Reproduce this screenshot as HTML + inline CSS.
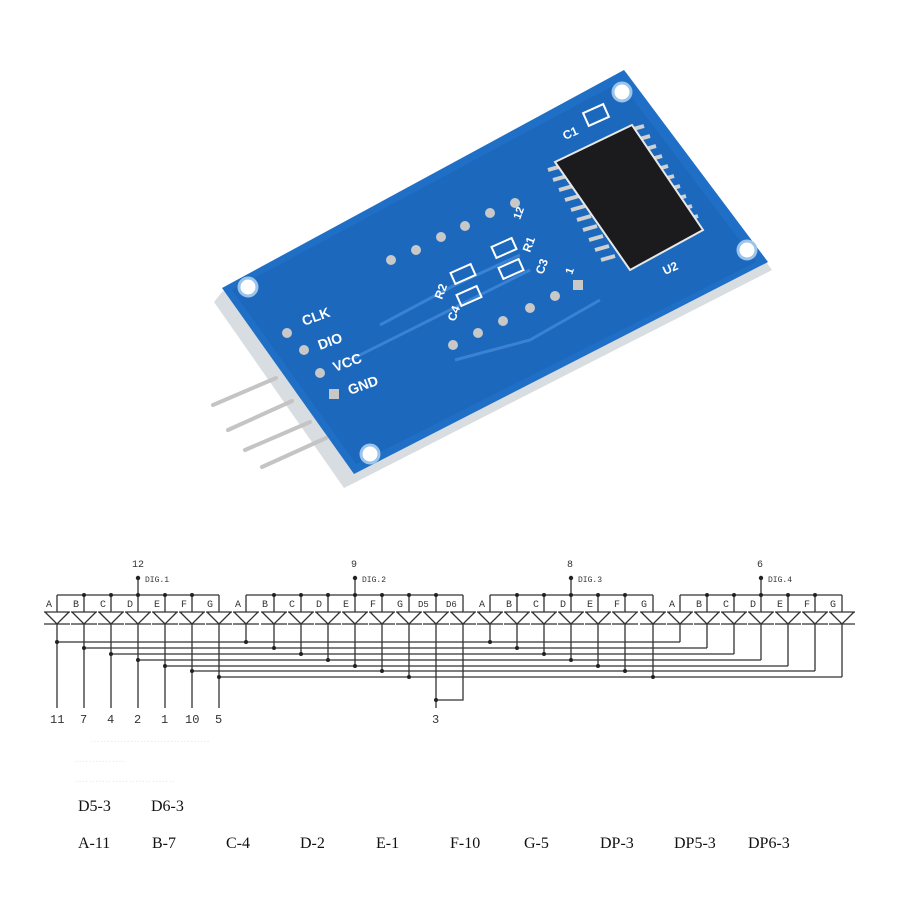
<!DOCTYPE html>
<html><head><meta charset="utf-8"><style>
html,body{margin:0;padding:0;background:#fff;}
svg{display:block;}
</style></head><body>
<svg width="900" height="900" viewBox="0 0 900 900" xmlns="http://www.w3.org/2000/svg">
<defs>
  <path id="d" d="M-13,612H13 M-12,612 L0,624 L12,612 M-13,624H13"/>
</defs>
<rect width="900" height="900" fill="#fff"/>
<!-- PCB -->
<g>
  <polygon points="222,292 626,72 772,270 356,482 344,488 214,302" fill="#d8dde2"/>
  <polygon points="222,288 624,70 768,262 354,474" fill="#1f6fc6"/>
  <polygon points="232,290 620,82 756,262 356,464" fill="#1c68bd"/>
  <circle cx="248" cy="287" r="9" fill="#fff" stroke="#9cc3ea" stroke-width="3"/>
  <circle cx="622" cy="92" r="9" fill="#fff" stroke="#9cc3ea" stroke-width="3"/>
  <circle cx="747" cy="250" r="9" fill="#fff" stroke="#9cc3ea" stroke-width="3"/>
  <circle cx="370" cy="454" r="9" fill="#fff" stroke="#9cc3ea" stroke-width="3"/>
  <!-- traces -->
  <path d="M380,325 L455,285 L520,255 M350,360 L470,300 L530,270 M455,360 L530,340 L600,300" stroke="#3a82d3" stroke-width="3" fill="none"/>
  <!-- chip pins -->
  <g stroke="#d0d0d0" stroke-width="4">
    <line x1="548" y1="170" x2="562" y2="166"/><line x1="553" y1="180" x2="567" y2="176"/><line x1="559" y1="190" x2="573" y2="186"/><line x1="565" y1="200" x2="579" y2="196"/><line x1="571" y1="210" x2="585" y2="206"/><line x1="577" y1="220" x2="591" y2="216"/><line x1="583" y1="230" x2="597" y2="226"/><line x1="589" y1="240" x2="603" y2="236"/><line x1="595" y1="250" x2="609" y2="246"/><line x1="601" y1="260" x2="615" y2="256"/>
    <line x1="630" y1="130" x2="644" y2="126"/><line x1="636" y1="140" x2="650" y2="136"/><line x1="642" y1="150" x2="656" y2="146"/><line x1="648" y1="160" x2="662" y2="156"/><line x1="654" y1="170" x2="668" y2="166"/><line x1="660" y1="180" x2="674" y2="176"/><line x1="666" y1="190" x2="680" y2="186"/><line x1="672" y1="200" x2="686" y2="196"/><line x1="678" y1="210" x2="692" y2="206"/><line x1="684" y1="220" x2="698" y2="216"/>
  </g>
  <polygon points="555,162 632,125 703,230 630,270" fill="#1b1b1e" stroke="#e8e8e8" stroke-width="2"/>
  <rect x="585" y="108" width="22" height="14" fill="none" stroke="#fff" stroke-width="2" transform="rotate(-24 596 115)"/>
  <text x="565" y="140" fill="#fff" font-family="Liberation Sans,sans-serif" font-size="12" font-weight="bold" transform="rotate(-24 565 140)">C1</text>
  <text x="665" y="275" fill="#fff" font-family="Liberation Sans,sans-serif" font-size="12" font-weight="bold" transform="rotate(-24 665 275)">U2</text>
  <!-- header pads -->
  <g fill="#c8c8c8">
    <circle cx="391" cy="260" r="5"/><circle cx="416" cy="250" r="5"/><circle cx="441" cy="237" r="5"/><circle cx="465" cy="226" r="5"/><circle cx="490" cy="213" r="5"/><circle cx="515" cy="203" r="5"/>
    <circle cx="453" cy="345" r="5"/><circle cx="478" cy="333" r="5"/><circle cx="503" cy="321" r="5"/><circle cx="530" cy="308" r="5"/><circle cx="555" cy="296" r="5"/><rect x="573" y="280" width="10" height="10"/>
    <circle cx="287" cy="333" r="5"/><circle cx="304" cy="350" r="5"/><circle cx="320" cy="373" r="5"/><rect x="329" y="389" width="10" height="10"/>
  </g>
  <g fill="#fff" font-family="Liberation Sans,sans-serif" font-size="14" font-weight="bold">
    <text x="304" y="326" transform="rotate(-20 304 326)">CLK</text>
    <text x="320" y="350" transform="rotate(-20 320 350)">DIO</text>
    <text x="335" y="372" transform="rotate(-20 335 372)">VCC</text>
    <text x="350" y="395" transform="rotate(-20 350 395)">GND</text>
    <text x="520" y="220" font-size="11" transform="rotate(-70 520 220)">12</text>
    <text x="572" y="275" font-size="11" transform="rotate(-70 572 275)">1</text>
    <text x="442" y="300" font-size="12" transform="rotate(-70 442 300)">R2</text>
    <text x="455" y="322" font-size="12" transform="rotate(-70 455 322)">C4</text>
    <text x="530" y="253" font-size="12" transform="rotate(-70 530 253)">R1</text>
    <text x="543" y="275" font-size="12" transform="rotate(-70 543 275)">C3</text>
  </g>
  <g fill="none" stroke="#fff" stroke-width="2">
    <rect x="452" y="268" width="22" height="12" transform="rotate(-24 463 274)"/>
    <rect x="458" y="290" width="22" height="12" transform="rotate(-24 469 296)"/>
    <rect x="493" y="242" width="22" height="12" transform="rotate(-24 504 248)"/>
    <rect x="500" y="263" width="22" height="12" transform="rotate(-24 511 269)"/>
  </g>
  <!-- pins -->
  <g stroke="#c4c4c4" stroke-width="4" stroke-linecap="round">
    <line x1="213" y1="405" x2="276" y2="378"/>
    <line x1="228" y1="430" x2="292" y2="401"/>
    <line x1="245" y1="450" x2="310" y2="422"/>
    <line x1="262" y1="467" x2="326" y2="438"/>
  </g>
</g>

<!-- Schematic -->
<g stroke="#333" stroke-width="1.3" fill="none">
  <line x1="57" y1="595" x2="219" y2="595"/>
  <line x1="246" y1="595" x2="463" y2="595"/>
  <line x1="490" y1="595" x2="653" y2="595"/>
  <line x1="680" y1="595" x2="842" y2="595"/>
  <line x1="138" y1="578" x2="138" y2="595"/>
  <line x1="355" y1="578" x2="355" y2="595"/>
  <line x1="571" y1="578" x2="571" y2="595"/>
  <line x1="761" y1="578" x2="761" y2="595"/>
  <path d="M57,595V612 M84,595V612 M111,595V612 M138,595V612 M165,595V612 M192,595V612 M219,595V612 M246,595V612 M274,595V612 M301,595V612 M328,595V612 M355,595V612 M382,595V612 M409,595V612 M436,595V612 M463,595V612 M490,595V612 M517,595V612 M544,595V612 M571,595V612 M598,595V612 M625,595V612 M653,595V612 M680,595V612 M707,595V612 M734,595V612 M761,595V612 M788,595V612 M815,595V612 M842,595V612"/>
  <line x1="57" y1="642" x2="680" y2="642"/>
  <line x1="84" y1="648" x2="707" y2="648"/>
  <line x1="111" y1="654" x2="734" y2="654"/>
  <line x1="138" y1="660" x2="761" y2="660"/>
  <line x1="165" y1="666" x2="788" y2="666"/>
  <line x1="192" y1="671" x2="815" y2="671"/>
  <line x1="219" y1="677" x2="842" y2="677"/>
  <path d="M57,624V708 M84,624V708 M111,624V708 M138,624V708 M165,624V708 M192,624V708 M219,624V708"/>
  <path d="M246,624V642 M274,624V648 M301,624V654 M328,624V660 M355,624V666 M382,624V671 M409,624V677"/>
  <path d="M436,624V708 M463,624V700 H436"/>
  <path d="M490,624V642 M517,624V648 M544,624V654 M571,624V660 M598,624V666 M625,624V671 M653,624V677"/>
  <path d="M680,624V642 M707,624V648 M734,624V654 M761,624V660 M788,624V666 M815,624V671 M842,624V677"/>
</g>
<g stroke="#333" stroke-width="1.3" fill="none">
  <use href="#d" x="57"/><use href="#d" x="84"/><use href="#d" x="111"/><use href="#d" x="138"/><use href="#d" x="165"/><use href="#d" x="192"/><use href="#d" x="219"/>
  <use href="#d" x="246"/><use href="#d" x="274"/><use href="#d" x="301"/><use href="#d" x="328"/><use href="#d" x="355"/><use href="#d" x="382"/><use href="#d" x="409"/><use href="#d" x="436"/><use href="#d" x="463"/>
  <use href="#d" x="490"/><use href="#d" x="517"/><use href="#d" x="544"/><use href="#d" x="571"/><use href="#d" x="598"/><use href="#d" x="625"/><use href="#d" x="653"/>
  <use href="#d" x="680"/><use href="#d" x="707"/><use href="#d" x="734"/><use href="#d" x="761"/><use href="#d" x="788"/><use href="#d" x="815"/><use href="#d" x="842"/>
</g>
<g fill="#222">
  <circle cx="138" cy="578" r="2.2"/><circle cx="355" cy="578" r="2.2"/><circle cx="571" cy="578" r="2.2"/><circle cx="761" cy="578" r="2.2"/>
  <circle cx="84" cy="595" r="2"/><circle cx="111" cy="595" r="2"/><circle cx="138" cy="595" r="2"/><circle cx="165" cy="595" r="2"/><circle cx="192" cy="595" r="2"/>
  <circle cx="274" cy="595" r="2"/><circle cx="301" cy="595" r="2"/><circle cx="328" cy="595" r="2"/><circle cx="355" cy="595" r="2"/><circle cx="382" cy="595" r="2"/><circle cx="409" cy="595" r="2"/><circle cx="436" cy="595" r="2"/>
  <circle cx="517" cy="595" r="2"/><circle cx="544" cy="595" r="2"/><circle cx="571" cy="595" r="2"/><circle cx="598" cy="595" r="2"/><circle cx="625" cy="595" r="2"/>
  <circle cx="707" cy="595" r="2"/><circle cx="734" cy="595" r="2"/><circle cx="761" cy="595" r="2"/><circle cx="788" cy="595" r="2"/><circle cx="815" cy="595" r="2"/>
  <circle cx="57" cy="642" r="2"/><circle cx="84" cy="648" r="2"/><circle cx="111" cy="654" r="2"/><circle cx="138" cy="660" r="2"/><circle cx="165" cy="666" r="2"/><circle cx="192" cy="671" r="2"/><circle cx="219" cy="677" r="2"/>
  <circle cx="246" cy="642" r="2"/><circle cx="274" cy="648" r="2"/><circle cx="301" cy="654" r="2"/><circle cx="328" cy="660" r="2"/><circle cx="355" cy="666" r="2"/><circle cx="382" cy="671" r="2"/><circle cx="409" cy="677" r="2"/>
  <circle cx="490" cy="642" r="2"/><circle cx="517" cy="648" r="2"/><circle cx="544" cy="654" r="2"/><circle cx="571" cy="660" r="2"/><circle cx="598" cy="666" r="2"/><circle cx="625" cy="671" r="2"/><circle cx="653" cy="677" r="2"/>
  <circle cx="436" cy="700" r="2"/>
</g>
<g font-family="Liberation Mono,monospace" font-size="10" fill="#333">
  <text x="132" y="567">12</text><text x="351" y="567">9</text><text x="567" y="567">8</text><text x="757" y="567">6</text>
  <text x="145" y="582" font-size="8">DIG.1</text><text x="362" y="582" font-size="8">DIG.2</text><text x="578" y="582" font-size="8">DIG.3</text><text x="768" y="582" font-size="8">DIG.4</text>
  <text x="46" y="607">A</text><text x="73" y="607">B</text><text x="100" y="607">C</text><text x="127" y="607">D</text><text x="154" y="607">E</text><text x="181" y="607">F</text><text x="207" y="607">G</text>
  <text x="235" y="607">A</text><text x="262" y="607">B</text><text x="289" y="607">C</text><text x="316" y="607">D</text><text x="343" y="607">E</text><text x="370" y="607">F</text><text x="397" y="607">G</text><text x="418" y="607" font-size="9">D5</text><text x="446" y="607" font-size="9">D6</text>
  <text x="479" y="607">A</text><text x="506" y="607">B</text><text x="533" y="607">C</text><text x="560" y="607">D</text><text x="587" y="607">E</text><text x="614" y="607">F</text><text x="641" y="607">G</text>
  <text x="669" y="607">A</text><text x="696" y="607">B</text><text x="723" y="607">C</text><text x="750" y="607">D</text><text x="777" y="607">E</text><text x="804" y="607">F</text><text x="830" y="607">G</text>
  <g font-size="12"><text x="50" y="723">11</text><text x="80" y="723">7</text><text x="107" y="723">4</text><text x="134" y="723">2</text><text x="161" y="723">1</text><text x="185" y="723">10</text><text x="215" y="723">5</text><text x="432" y="723">3</text></g>
</g>
<g font-family="Liberation Sans,sans-serif" font-size="10" fill="#e6e6e6">
  <text x="90" y="742">………………………………</text>
  <text x="75" y="762">……………</text>
  <text x="75" y="782">…………………………</text>
</g>
<g font-family="Liberation Serif,serif" font-size="16" fill="#111">
  <text x="78" y="811">D5-3</text><text x="151" y="811">D6-3</text>
  <text x="78" y="848">A-11</text><text x="152" y="848">B-7</text><text x="226" y="848">C-4</text><text x="300" y="848">D-2</text><text x="376" y="848">E-1</text><text x="450" y="848">F-10</text><text x="524" y="848">G-5</text><text x="600" y="848">DP-3</text><text x="674" y="848">DP5-3</text><text x="748" y="848">DP6-3</text>
</g>
</svg>
</body></html>
